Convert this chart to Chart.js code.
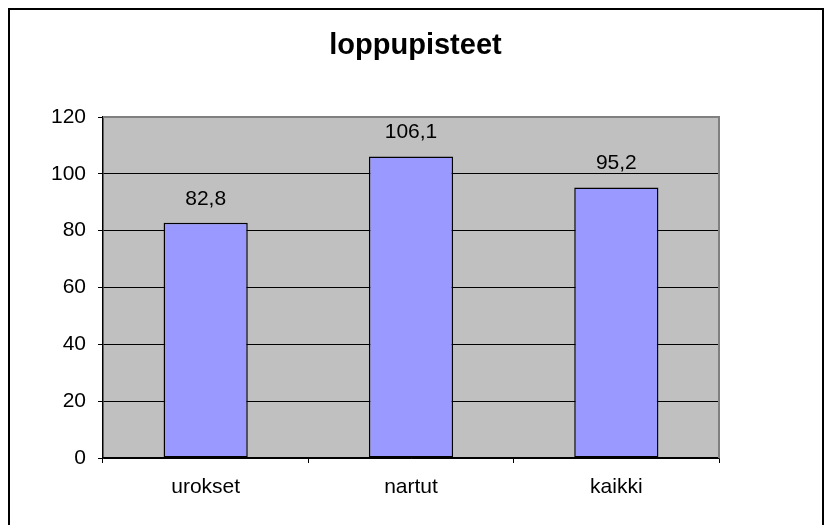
<!DOCTYPE html>
<html>
<head>
<meta charset="utf-8">
<script src="https://cdn.jsdelivr.net/npm/chart.js@4"></script>
<style>
    html, body { margin: 0; padding: 0; background: #fff; }
    canvas { display: block; }
</style>
</head>
<body>
<canvas id="chart" width="831" height="525"></canvas>
<script>
// chart data
const categories = ['urokset', 'nartut', 'kaikki'];
const values = [82.8, 106.1, 95.2];
const yTicks = [0, 20, 40, 60, 80, 100, 120];
const chartTitle = 'loppupisteet';

const FONT = '"Liberation Sans", Arial, sans-serif';

// outer frame, title, grey plot background
const backgroundPlugin = {
    id: 'background',
    beforeDraw(chart) {
        const ctx = chart.ctx;
        const a = chart.chartArea;
        ctx.save();
        ctx.fillStyle = '#fff';
        ctx.fillRect(0, 0, chart.width, chart.height);
        ctx.strokeStyle = '#000';
        ctx.lineWidth = 2;
        ctx.strokeRect(9, 9, 814, 540);
        ctx.fillStyle = '#c0c0c0';
        ctx.fillRect(a.left, a.top, a.right - a.left, a.bottom - a.top);
        // title, centred on the whole picture
        ctx.fillStyle = '#000';
        ctx.font = 'bold 29px ' + FONT;
        ctx.textAlign = 'center';
        ctx.textBaseline = 'alphabetic';
        ctx.fillText(chartTitle, chart.width / 2, 54);
        ctx.restore();
    },
    afterDatasetsDraw(chart) {
        const ctx = chart.ctx;
        const a = chart.chartArea;
        ctx.save();
        // top and right edge of plot area
        ctx.strokeStyle = '#808080';
        ctx.lineWidth = 2;
        ctx.beginPath();
        ctx.moveTo(a.left, a.top);
        ctx.lineTo(a.right, a.top);
        ctx.lineTo(a.right, a.bottom);
        ctx.stroke();
        // value labels above bars
        ctx.fillStyle = '#000';
        ctx.font = '21px ' + FONT;
        ctx.textAlign = 'center';
        ctx.textBaseline = 'alphabetic';
        chart.getDatasetMeta(0).data.forEach((bar, i) => {
            ctx.fillText(values[i].toFixed(1).replace('.', ','), bar.x, bar.y - 18);
        });
        ctx.restore();
    }
};

new Chart(document.getElementById('chart'), {
    type: 'bar',
    data: {
        labels: categories,
        datasets: [{
            data: values,
            backgroundColor: '#9999ff',
            borderColor: '#000',
            borderWidth: 1.5,
            borderSkipped: false,
            categoryPercentage: 1,
            barPercentage: 0.41
        }]
    },
    options: {
        responsive: false,
        animation: false,
        layout: { padding: { left: 0, right: 112, top: 117, bottom: 0 } },
        plugins: {
            legend: { display: false },
            tooltip: { enabled: false },
            title: { display: false }
        },
        scales: {
            x: {
                grid: {
                    offset: true,
                    drawOnChartArea: false,
                    drawTicks: true,
                    tickLength: 5,
                    color: '#000'
                },
                border: { color: '#000', width: 1.5 },
                ticks: {
                    color: '#000',
                    font: { family: FONT, size: 21 },
                    padding: 12
                },
                afterFit(scale) { scale.height = 67; }
            },
            y: {
                min: 0,
                max: 120,
                grid: {
                    color: '#000',
                    lineWidth: 1,
                    tickLength: 5
                },
                border: { color: '#000', width: 1.5 },
                afterBuildTicks(scale) {
                    scale.ticks = yTicks.map(v => ({ value: v }));
                },
                ticks: {
                    color: '#000',
                    font: { family: FONT, size: 21 },
                    padding: 12
                },
                afterFit(scale) { scale.width = 103; }
            }
        }
    },
    plugins: [backgroundPlugin]
});
</script>
</body>
</html>
